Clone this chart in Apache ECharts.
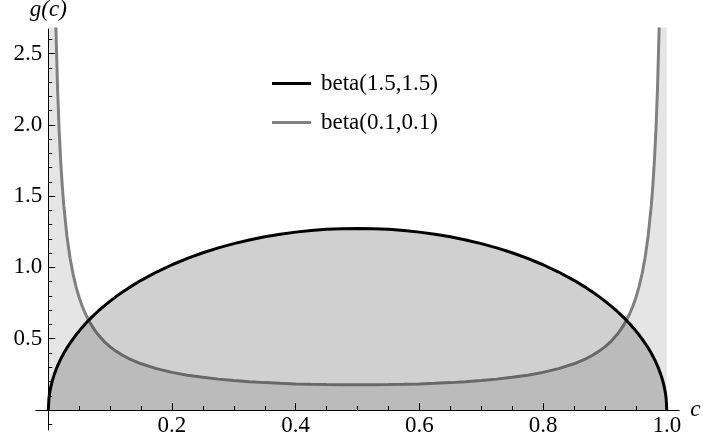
<!DOCTYPE html>
<html><head><meta charset="utf-8">
<script src="https://cdn.jsdelivr.net/npm/echarts@6/dist/echarts.min.js"></script>
<style>html,body{margin:0;padding:0;background:#fff}#c{width:703px;height:442px}</style>
</head><body><div id="c"></div>
<script>
// sample positions along c
var cValues = [0, 0.001, 0.002, 0.003, 0.004, 0.006, 0.008, 0.01, 0.0125, 0.015, 0.0175, 0.02, 0.0225, 0.025, 0.03, 0.035, 0.04, 0.045, 0.05, 0.055, 0.06, 0.065, 0.07, 0.075, 0.08, 0.09, 0.1, 0.11, 0.12, 0.13, 0.15, 0.175, 0.2, 0.225, 0.25, 0.275, 0.3, 0.325, 0.35, 0.375, 0.4, 0.425, 0.45, 0.475, 0.5,
  0.525, 0.55, 0.575, 0.6, 0.625, 0.65, 0.675, 0.7, 0.725, 0.75, 0.775, 0.8, 0.825, 0.85, 0.87, 0.88, 0.89, 0.9, 0.91, 0.92, 0.925, 0.93, 0.935, 0.94, 0.945, 0.95, 0.955, 0.96, 0.965, 0.97, 0.975, 0.9775, 0.98, 0.9825, 0.985, 0.9875, 0.99, 0.992, 0.994, 0.996, 0.997, 0.998, 0.999, 1];
// beta(1.5,1.5) density
var beta15 = [0, 0.0805, 0.1137, 0.1393, 0.1607, 0.1966, 0.2269, 0.2534, 0.2830, 0.3096, 0.3339, 0.3565, 0.3776, 0.3975, 0.4344, 0.4680, 0.4990, 0.5279, 0.5550, 0.5805, 0.6049, 0.6278, 0.6497, 0.6707, 0.6909, 0.7288, 0.7639, 0.7968, 0.8275, 0.8564, 0.9093, 0.9676, 1.0186, 1.0634, 1.1027, 1.1370, 1.1670, 1.1927, 1.2146, 1.2328, 1.2475, 1.2588, 1.2669, 1.2717, 1.2732,
  1.2717, 1.2669, 1.2588, 1.2475, 1.2328, 1.2146, 1.1927, 1.1670, 1.1370, 1.1027, 1.0634, 1.0186, 0.9676, 0.9093, 0.8564, 0.8275, 0.7968, 0.7639, 0.7288, 0.6909, 0.6707, 0.6497, 0.6278, 0.6049, 0.5805, 0.5550, 0.5279, 0.4990, 0.4680, 0.4344, 0.3975, 0.3776, 0.3565, 0.3339, 0.3096, 0.2830, 0.2534, 0.2269, 0.1966, 0.1607, 0.1393, 0.1137, 0.0805, 0];
// beta(0.1,0.1) density (values beyond the top edge run off-chart)
var beta01 = [40, 25.45, 13.64, 9.48, 7.32, 5.10, 3.94, 3.23, 2.648, 2.253, 1.965, 1.747, 1.575, 1.435, 1.224, 1.070, 0.954, 0.862, 0.787, 0.726, 0.675, 0.631, 0.593, 0.560, 0.531, 0.482, 0.443, 0.411, 0.384, 0.361, 0.324, 0.290, 0.264, 0.2443, 0.229, 0.2165, 0.207, 0.1987, 0.192, 0.1872, 0.183, 0.1803, 0.178, 0.1770, 0.1766,
  0.1770, 0.178, 0.1803, 0.183, 0.1872, 0.192, 0.1987, 0.207, 0.2165, 0.229, 0.2443, 0.264, 0.290, 0.324, 0.361, 0.384, 0.411, 0.443, 0.482, 0.531, 0.560, 0.593, 0.631, 0.675, 0.726, 0.787, 0.862, 0.954, 1.070, 1.224, 1.435, 1.575, 1.747, 1.965, 2.253, 2.648, 3.23, 3.94, 5.10, 7.32, 9.48, 13.64, 25.45, 40];
var seriesNames = ['beta(1.5,1.5)', 'beta(0.1,0.1)'];
var xMajorTicks = [0.2, 0.4, 0.6, 0.8, 1.0];
var xMinorTicks = [0.05, 0.1, 0.15, 0.25, 0.3, 0.35, 0.45, 0.5, 0.55, 0.65, 0.7, 0.75, 0.85, 0.9, 0.95];
var yMajorTicks = [0.5, 1.0, 1.5, 2.0, 2.5];
var yMinorTicks = [-0.1, 0.1, 0.2, 0.3, 0.4, 0.6, 0.7, 0.8, 0.9, 1.1, 1.2, 1.3, 1.4, 1.6, 1.7, 1.8, 1.9, 2.1, 2.2, 2.3, 2.4, 2.6];

function pairs(ys){ return cValues.map(function(x,i){ return [x, ys[i]]; }); }
var FONT = '"Liberation Serif", "DejaVu Serif", serif';
var FS = 23;
var fmt = function(v){ return v.toFixed(1); };
var chart = echarts.init(document.getElementById('c'), null, {renderer:'canvas'});
chart.setOption({
  animation:false,
  grid:[
    {left:48.3, right:703-679.2, top:29, bottom:442-410, containLabel:false, outerBoundsMode:'none'},
    {left:35.9, right:703-679.2, top:29, bottom:442-430, containLabel:false, outerBoundsMode:'none'}
  ],
  legend:{
    orient:'vertical', left:267, top:67, itemWidth:39, itemHeight:3, itemGap:16,
    icon:'rect',
    textStyle:{color:'#000', fontFamily:FONT, fontSize:FS, padding:[0,0,0,5]},
    data:[{name:seriesNames[0], itemStyle:{color:'#000'}}, {name:seriesNames[1], itemStyle:{color:'#808080'}}]
  },
  xAxis:[{
    gridIndex:0, type:'value', min:0, max:1.0201, position:'bottom',
    axisLine:{show:false, onZero:false}, axisTick:{show:false}, splitLine:{show:false},
    axisLabel:{show:true, customValues:xMajorTicks, margin:4, formatter:fmt, color:'#000', fontFamily:FONT, fontSize:FS}
  },{
    gridIndex:1, type:'value', min:-0.02, max:1.02, position:'bottom',
    axisLine:{show:true, onZero:true, lineStyle:{color:'#000', width:1}},
    axisTick:{show:true, inside:true, length:7, customValues:xMajorTicks, lineStyle:{color:'#000'}},
    axisLabel:{show:false}, splitLine:{show:false},
    name:'c', nameLocation:'end', nameGap:11,
    nameTextStyle:{color:'#000', fontFamily:FONT, fontSize:FS, fontStyle:'italic', verticalAlign:'middle'}
  },{
    gridIndex:1, type:'value', min:-0.02, max:1.02, position:'top',
    axisLine:{show:false, onZero:true},
    axisTick:{show:true, inside:false, length:4, customValues:xMinorTicks, lineStyle:{color:'#000'}},
    axisLabel:{show:false}, splitLine:{show:false}
  }],
  yAxis:[{
    gridIndex:0, type:'value', min:0, max:2.672, position:'left',
    axisLine:{show:false, onZero:false}, axisTick:{show:false}, splitLine:{show:false},
    axisLabel:{show:true, customValues:yMajorTicks, margin:6, formatter:fmt, color:'#000', fontFamily:FONT, fontSize:FS}
  },{
    gridIndex:1, type:'value', min:-0.14, max:2.672, position:'left',
    axisLine:{show:true, onZero:true, lineStyle:{color:'#000', width:1}},
    axisTick:{show:true, inside:true, length:7, customValues:yMajorTicks, lineStyle:{color:'#000'}},
    axisLabel:{show:false}, splitLine:{show:false},
    name:'g(c)', nameLocation:'end', nameGap:8,
    nameTextStyle:{color:'#000', fontFamily:FONT, fontSize:FS, fontStyle:'italic', align:'center'}
  },{
    gridIndex:1, type:'value', min:-0.14, max:2.672, position:'right',
    axisLine:{show:false, onZero:true},
    axisTick:{show:true, inside:false, length:4, customValues:yMinorTicks, lineStyle:{color:'#000'}},
    axisLabel:{show:false}, splitLine:{show:false}
  }],
  series:[{
    name:seriesNames[1], type:'line', data:pairs(beta01), symbol:'none', smooth:false, clip:true,
    xAxisIndex:0, yAxisIndex:0,
    lineStyle:{color:'#808080', width:3},
    itemStyle:{color:'#808080'},
    areaStyle:{color:'rgba(0,0,0,0.1)', opacity:1, origin:'auto'}, z:2
  },{
    name:seriesNames[0], type:'line', data:pairs(beta15), symbol:'none', smooth:false, clip:true,
    xAxisIndex:0, yAxisIndex:0,
    lineStyle:{color:'#000', width:3},
    itemStyle:{color:'#000'},
    areaStyle:{color:'rgba(0,0,0,0.185)', opacity:1, origin:'auto'}, z:3
  }]
});
</script></body></html>
